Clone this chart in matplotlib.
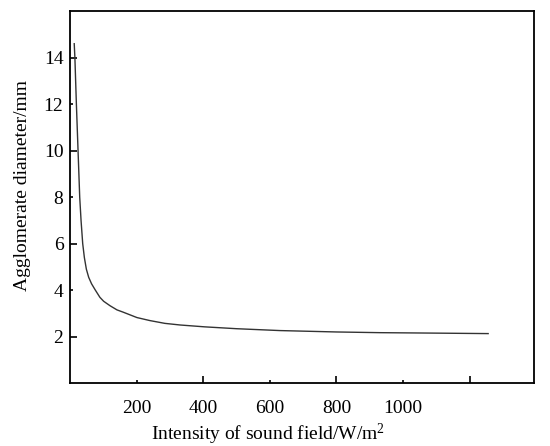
import numpy as np
import matplotlib.pyplot as plt

plt.rcParams['font.family'] = ['Liberation Serif', 'DejaVu Serif']
plt.rcParams['mathtext.fontset'] = 'custom'
plt.rcParams['mathtext.rm'] = 'Liberation Serif'
plt.rcParams['mathtext.default'] = 'rm'

# values
intensity = [11.5, 13.5, 18, 23, 28, 32, 37, 42, 48, 55, 63.7, 75, 88.7,
             100, 119, 140, 159, 200, 239, 284, 330, 404, 500, 630, 800,
             931, 1100, 1256]
diameter = [14.6, 14.0, 12.0, 10.0, 8.0, 7.0, 6.0, 5.4, 4.9, 4.55, 4.27, 4.0,
            3.69, 3.52, 3.33, 3.15, 3.05, 2.82, 2.69, 2.57, 2.5, 2.42, 2.34,
            2.26, 2.2, 2.17, 2.15, 2.13]

x_major = [400, 800, 1200]
x_minor = [200, 600, 1000]
y_major = [2, 6, 10, 14]
y_minor = [4, 8, 12]

fig = plt.figure(figsize=(5.5, 4.46), dpi=100)
ax = fig.add_axes([0.128, 0.141, 0.843, 0.834])

ax.plot(intensity, diameter, color='#333333', lw=1.0)

ax.set_xlim(0, 1394)
ax.set_ylim(0, 16)

ax.set_xticks(x_major)
ax.set_xticklabels(['400', '800', ''])
ax.set_xticks(x_minor, minor=True)
ax.set_xticklabels([str(v) for v in x_minor], minor=True)
ax.set_yticks(y_major)
ax.set_yticklabels([str(v) for v in y_major])
ax.set_yticks(y_minor, minor=True)
ax.set_yticklabels([str(v) for v in y_minor], minor=True)

ax.tick_params(axis='both', which='both', direction='in', width=1.2,
               labelsize=14, top=False, right=False)
ax.tick_params(axis='both', which='major', length=5)
ax.tick_params(axis='both', which='minor', length=2.5)
ax.tick_params(axis='x', which='both', pad=12)
ax.tick_params(axis='y', which='both', pad=5)

for s in ax.spines.values():
    s.set_linewidth(1.3)

ax.set_xlabel('Intensity of sound field/W/m$^2$', fontsize=14)
ax.set_ylabel('Agglomerate diameter/mm', fontsize=14)
ax.xaxis.set_label_coords(0.427, -0.105)
ax.yaxis.set_label_coords(-0.086, 0.53)

fig.savefig('out.png', dpi=100)
